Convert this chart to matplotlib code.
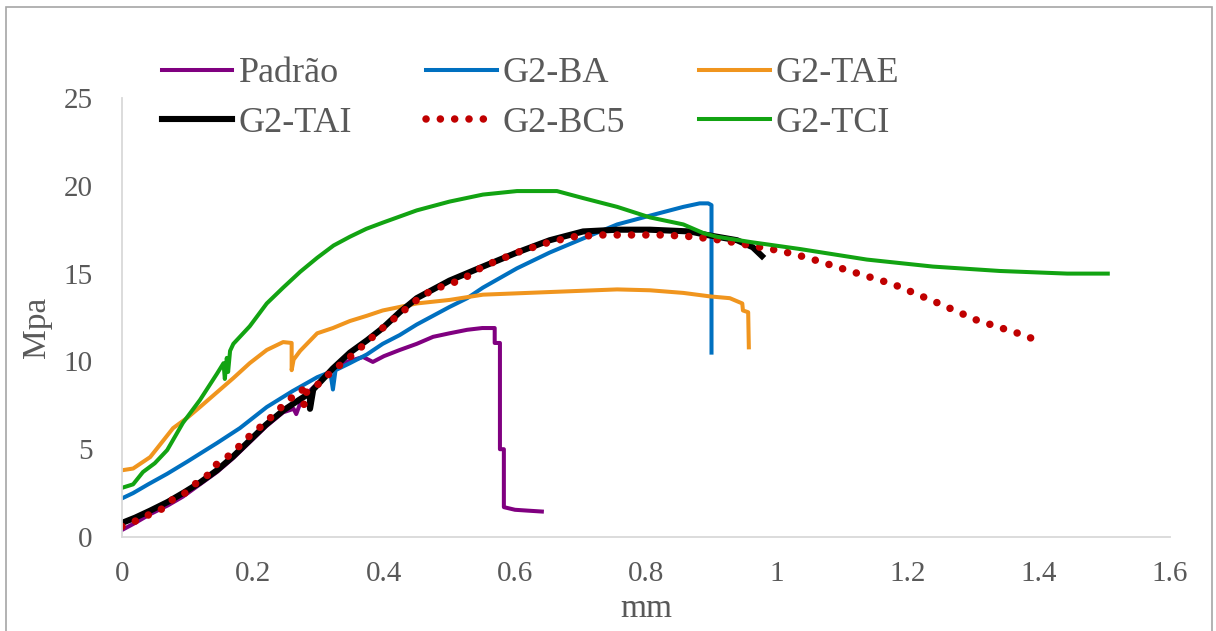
"""Curvas tensão x deslocamento (Mpa x mm) das séries G2, estilo gráfico do Excel."""

import matplotlib

matplotlib.use("Agg")

import matplotlib.pyplot as plt
from matplotlib.patches import Rectangle

# ---- dados (mm, Mpa) ----
padrao_x = [0, 0.02, 0.043, 0.07, 0.093, 0.119, 0.145, 0.17, 0.195, 0.22, 0.246, 0.262,
            0.266, 0.275, 0.30, 0.322, 0.345, 0.368, 0.383, 0.40, 0.424, 0.45, 0.475, 0.50,
            0.527, 0.55, 0.569, 0.569, 0.577, 0.577, 0.583, 0.583, 0.60, 0.62, 0.641]
padrao_y = [0.4, 0.8, 1.3, 1.8, 2.3, 3.0, 3.7, 4.5, 5.4, 6.3, 7.1, 7.3,
            7.0, 7.9, 8.8, 9.5, 10.0, 10.25, 9.97, 10.3, 10.65, 11.0, 11.4, 11.6,
            11.8, 11.9, 11.9, 11.05, 11.05, 5.0, 5.0, 1.7, 1.55, 1.5, 1.45]

ba_x = [0, 0.017, 0.04, 0.069, 0.1, 0.145, 0.18, 0.221, 0.26, 0.298, 0.318, 0.322, 0.326,
        0.348, 0.374, 0.398, 0.424, 0.45, 0.475, 0.5, 0.527, 0.551, 0.603, 0.653, 0.704,
        0.756, 0.806, 0.857, 0.882, 0.895, 0.9, 0.9]
ba_y = [2.2, 2.5, 3.0, 3.6, 4.3, 5.35, 6.2, 7.4, 8.3, 9.1, 9.4, 8.4, 9.5,
        9.9, 10.4, 11.0, 11.5, 12.1, 12.6, 13.1, 13.6, 14.2, 15.3, 16.2, 17.0,
        17.8, 18.3, 18.8, 19.0, 19.0, 18.9, 10.5]

tae_x = [0, 0.017, 0.043, 0.078, 0.1, 0.119, 0.17, 0.195, 0.221, 0.246, 0.259, 0.259,
         0.262, 0.272, 0.298, 0.322, 0.348, 0.374, 0.398, 0.424, 0.45, 0.5, 0.551, 0.653,
         0.756, 0.806, 0.857, 0.898, 0.928, 0.947, 0.948, 0.956, 0.957]
tae_y = [3.8, 3.9, 4.55, 6.2, 6.8, 7.4, 9.05, 9.9, 10.65, 11.1, 11.05, 9.5,
         10.1, 10.6, 11.6, 11.9, 12.3, 12.6, 12.9, 13.1, 13.3, 13.5, 13.8, 13.95,
         14.1, 14.05, 13.9, 13.7, 13.6, 13.3, 12.9, 12.8, 10.8]

tai_x = [0, 0.02, 0.043, 0.07, 0.093, 0.119, 0.145, 0.17, 0.195, 0.22, 0.246, 0.27,
         0.287, 0.287, 0.292, 0.322, 0.348, 0.374, 0.398, 0.424, 0.45, 0.475, 0.5,
         0.551, 0.603, 0.653, 0.704, 0.756, 0.806, 0.867, 0.893, 0.939, 0.963, 0.977]
tai_y = [0.8, 1.1, 1.5, 2.0, 2.5, 3.1, 3.8, 4.6, 5.5, 6.4, 7.2, 7.8,
         8.2, 7.3, 8.4, 9.6, 10.5, 11.2, 11.9, 12.8, 13.6, 14.1, 14.6,
         15.4, 16.2, 16.9, 17.4, 17.5, 17.5, 17.4, 17.2, 16.9, 16.5, 16.0]

bc5_x = [0, 0.017, 0.04, 0.061, 0.076, 0.096, 0.111, 0.13, 0.143, 0.162, 0.177, 0.19,
         0.206, 0.22, 0.234, 0.246, 0.261, 0.275, 0.278, 0.282, 0.298, 0.31, 0.322, 0.336,
         0.348, 0.374, 0.398, 0.424, 0.45, 0.475, 0.5, 0.521, 0.551, 0.603, 0.653, 0.69,
         0.734, 0.78, 0.826, 0.872, 0.916, 0.959, 1.005, 1.047, 1.111, 1.177, 1.241,
         1.305, 1.368, 1.39]
bc5_y = [0.6, 0.85, 1.25, 1.6, 2.1, 2.5, 3.0, 3.5, 4.1, 4.6, 5.1, 5.6,
         6.1, 6.55, 7.05, 7.5, 8.0, 8.4, 7.5, 8.3, 8.65, 9.1, 9.45, 9.9,
         10.25, 11.1, 11.9, 12.7, 13.5, 14.1, 14.4, 14.7, 15.4, 16.2, 16.8, 17.1,
         17.2, 17.2, 17.2, 17.1, 16.9, 16.6, 16.3, 15.9, 15.15, 14.4, 13.4,
         12.35, 11.6, 11.3]

tci_x = [0, 0.017, 0.032, 0.05, 0.069, 0.093, 0.119, 0.145, 0.155, 0.157, 0.16, 0.162,
         0.165, 0.17, 0.195, 0.221, 0.246, 0.272, 0.298, 0.323, 0.348, 0.373, 0.398, 0.45,
         0.5, 0.551, 0.603, 0.664, 0.684, 0.704, 0.756, 0.806, 0.857, 0.888, 0.908, 0.959,
         1.035, 1.137, 1.238, 1.34, 1.443, 1.505]
tci_y = [2.8, 3.0, 3.7, 4.2, 4.95, 6.5, 7.8, 9.3, 9.9, 9.0, 10.2, 9.4,
         10.6, 11.0, 12.0, 13.3, 14.2, 15.1, 15.9, 16.6, 17.1, 17.55, 17.9, 18.6,
         19.1, 19.5, 19.7, 19.7, 19.5, 19.3, 18.8, 18.2, 17.8, 17.3, 17.1, 16.8,
         16.4, 15.8, 15.4, 15.15, 15.0, 15.0]

x_ticks = [0, 0.2, 0.4, 0.6, 0.8, 1.0, 1.2, 1.4, 1.6]
x_tick_labels = ["0", "0.2", "0.4", "0.6", "0.8", "1", "1.2", "1.4", "1.6"]
y_ticks = [0, 5, 10, 15, 20, 25]

TEXT = "#595959"
AXIS = "#D9D9D9"


def main() -> None:
    plt.rcParams["font.family"] = ["Liberation Serif", "DejaVu Serif"]

    fig = plt.figure(figsize=(12.16, 6.31), dpi=100)
    ax = fig.add_axes([122 / 1216, 94 / 631, 1048 / 1216, 439 / 631])

    # borda do gráfico (área do gráfico do Excel)
    fig.patches.append(Rectangle((6 / 1216, -0.05), 1206 / 1216, 1.05 - 7 / 631,
                                 transform=fig.transFigure, fill=False,
                                 edgecolor="#A6A6A6", linewidth=1.2))

    l_pad, = ax.plot(padrao_x, padrao_y, color="#800080", lw=2.9, label="Padrão")
    l_ba, = ax.plot(ba_x, ba_y, color="#0070C0", lw=2.9, label="G2-BA")
    l_tae, = ax.plot(tae_x, tae_y, color="#F0951E", lw=2.9, label="G2-TAE")
    l_tai, = ax.plot(tai_x, tai_y, color="black", lw=4.4, label="G2-TAI")
    l_bc5, = ax.plot(bc5_x, bc5_y, color="#C00000", lw=5.4, linestyle=(0, (0.01, 1.9)),
                     dash_capstyle="round", label="G2-BC5")
    l_tci, = ax.plot(tci_x, tci_y, color="#12A312", lw=2.9, label="G2-TCI")

    ax.set_xlim(0, 1.6)
    ax.set_ylim(0, 25)
    ax.set_xticks(x_ticks)
    ax.set_xticklabels(x_tick_labels)
    ax.set_yticks(y_ticks)
    ax.tick_params(axis="both", length=0, labelsize=21, labelcolor=TEXT)
    ax.tick_params(axis="x", pad=17)
    ax.tick_params(axis="y", pad=21)

    for side in ("top", "right"):
        ax.spines[side].set_visible(False)
    for side in ("left", "bottom"):
        ax.spines[side].set_color(AXIS)
        ax.spines[side].set_linewidth(1.3)

    ax.set_xlabel("mm", fontsize=24, color=TEXT, va="center")
    ax.xaxis.set_label_coords(0.5, -0.163)
    ax.set_ylabel("Mpa", fontsize=24, color=TEXT, va="center")
    ax.yaxis.set_label_coords(-0.081, 0.478)

    # legenda em 2 linhas x 3 colunas (matplotlib preenche por coluna)
    handles = [l_pad, l_tai, l_ba, l_bc5, l_tae, l_tci]
    leg = fig.legend(handles, [h.get_label() for h in handles], ncol=3,
                     loc="upper left", bbox_to_anchor=(162 / 1216, 1 - 57 / 631),
                     frameon=False, borderpad=0, borderaxespad=0, fontsize=26,
                     handlelength=1.95, handletextpad=0.17, columnspacing=2.05,
                     labelspacing=0.45)
    for txt in leg.get_texts():
        txt.set_color(TEXT)

    fig.savefig("out.png", dpi=100)
    plt.close(fig)


if __name__ == "__main__":
    main()
